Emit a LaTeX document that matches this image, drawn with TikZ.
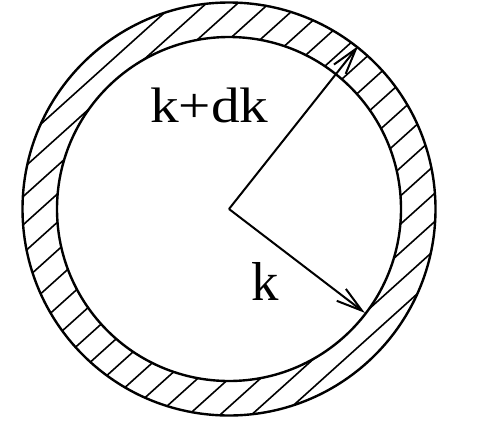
\documentclass[tikz,border=0pt]{standalone}
\usepackage{fontspec}
\setmainfont{Liberation Serif}
\usetikzlibrary{arrows.meta,calc}
\begin{document}
\begin{tikzpicture}[x=1bp,y=1bp,
  ring/.style={line width=2.4bp},
  hatch/.style={line width=1.6bp},
  radius arrow/.style={line width=2bp,-{Straight Barb[length=26bp,width=15bp,line width=2bp]}},
  lbl/.style={inner sep=0pt,anchor=base west}]
\useasboundingbox (0,0) rectangle (478,425);
\coordinate (O) at (229,216);
\coordinate (Tout) at ($(O)+(51.6:208)$);
\coordinate (Tin) at ($(O)+(-37.4:171)$);
% hatching
\begin{scope}[even odd rule]
  \clip (O) circle (206.5) (O) circle (172);
  \foreach \i in {-11,...,11}
    \draw[hatch,shift={(O)},rotate=42] (-230,\i*21) -- (230,\i*21);
\end{scope}
\draw[ring] (O) circle (206.5);
\draw[ring] (O) circle (172);
\draw[radius arrow] (O) -- (Tout);
\draw[radius arrow] (O) -- (Tin);
\node[lbl,font=\fontsize{50}{50}\selectfont] (kdk) at (150,303) {\scalebox{1.15}[1]{k+dk}};
\node[lbl,font=\fontsize{55}{55}\selectfont] (k) at (251,125) {k};
\end{tikzpicture}
\end{document}
